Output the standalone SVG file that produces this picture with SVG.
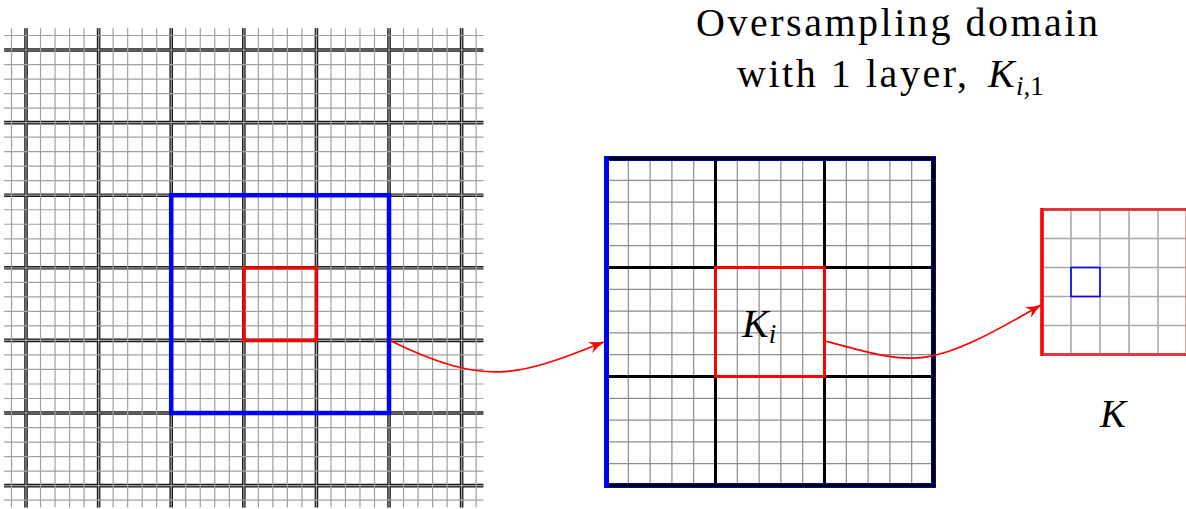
<svg xmlns="http://www.w3.org/2000/svg" width="1186" height="509" viewBox="0 0 1186 509">
<style>
.bg{fill:#fff}
.coarseL{stroke:#1a1a1a;stroke-width:3.6;fill:none}
.fineL{stroke:#a0a0a0;stroke-width:1.2;fill:none}
.fineM{stroke:#8c8c8c;stroke-width:1.2;fill:none}
.coarseM{stroke:#000;stroke-width:3;fill:none}
.fineR{stroke:#a8a8a8;stroke-width:1.6;fill:none}
.blue{stroke:#0000ff;fill:none}
.red{stroke:#ff0000;fill:none}
.conn{stroke:#ff0000;stroke-width:1.7;fill:none}
.t{font-family:"Liberation Serif","DejaVu Serif","Times New Roman",serif;fill:#000}
.it{font-style:italic}
</style>
<defs>
<marker id="arr" viewBox="0 0 16 13" refX="15" refY="6.5" markerWidth="16" markerHeight="13" markerUnits="userSpaceOnUse" orient="auto">
<path d="M0,0.5 Q8,4.5 15.5,6.5 Q8,8.5 0,12.5 L4.5,6.5 Z" fill="#ff0000"/>
</marker>
</defs>
<rect class="bg" x="0" y="0" width="1186" height="509"/>

<g id="fine-mesh">
<path class="coarseL" d="M26.02,28.3V507.4M98.62,28.3V507.4M171.22,28.3V507.4M243.82,28.3V507.4M316.42,28.3V507.4M389.02,28.3V507.4M461.62,28.3V507.4M4.2,50.02H483.4M4.2,122.62H483.4M4.2,195.22H483.4M4.2,267.82H483.4M4.2,340.42H483.4M4.2,413.02H483.4M4.2,485.62H483.4"/>
<path class="fineL" d="M11.5,28.3V507.4M26.02,28.3V507.4M40.54,28.3V507.4M55.06,28.3V507.4M69.58,28.3V507.4M84.1,28.3V507.4M98.62,28.3V507.4M113.14,28.3V507.4M127.66,28.3V507.4M142.18,28.3V507.4M156.7,28.3V507.4M171.22,28.3V507.4M185.74,28.3V507.4M200.26,28.3V507.4M214.78,28.3V507.4M229.3,28.3V507.4M243.82,28.3V507.4M258.34,28.3V507.4M272.86,28.3V507.4M287.38,28.3V507.4M301.9,28.3V507.4M316.42,28.3V507.4M330.94,28.3V507.4M345.46,28.3V507.4M359.98,28.3V507.4M374.5,28.3V507.4M389.02,28.3V507.4M403.54,28.3V507.4M418.06,28.3V507.4M432.58,28.3V507.4M447.1,28.3V507.4M461.62,28.3V507.4M476.14,28.3V507.4
M4.2,35.5H483.4M4.2,50.02H483.4M4.2,64.54H483.4M4.2,79.06H483.4M4.2,93.58H483.4M4.2,108.1H483.4M4.2,122.62H483.4M4.2,137.14H483.4M4.2,151.66H483.4M4.2,166.18H483.4M4.2,180.7H483.4M4.2,195.22H483.4M4.2,209.74H483.4M4.2,224.26H483.4M4.2,238.78H483.4M4.2,253.3H483.4M4.2,267.82H483.4M4.2,282.34H483.4M4.2,296.86H483.4M4.2,311.38H483.4M4.2,325.9H483.4M4.2,340.42H483.4M4.2,354.94H483.4M4.2,369.46H483.4M4.2,383.98H483.4M4.2,398.5H483.4M4.2,413.02H483.4M4.2,427.54H483.4M4.2,442.06H483.4M4.2,456.58H483.4M4.2,471.1H483.4M4.2,485.62H483.4M4.2,500.14H483.4"/>
<rect class="blue" x="171.22" y="195.22" width="217.8" height="217.8" stroke-width="4.5"/>
<rect class="red" x="243.82" y="267.82" width="72.6" height="72.6" stroke-width="3"/>
</g>

<g id="oversampling-domain">
<path class="fineM" d="M628.3,158.5V485.5M650.1,158.5V485.5M671.9,158.5V485.5M693.7,158.5V485.5M737.3,158.5V485.5M759.1,158.5V485.5M780.9,158.5V485.5M802.7,158.5V485.5M846.3,158.5V485.5M868.1,158.5V485.5M889.9,158.5V485.5M911.7,158.5V485.5
M606.5,180.3H933.5M606.5,202.1H933.5M606.5,223.9H933.5M606.5,245.7H933.5M606.5,289.3H933.5M606.5,311.1H933.5M606.5,332.9H933.5M606.5,354.7H933.5M606.5,398.3H933.5M606.5,420.1H933.5M606.5,441.9H933.5M606.5,463.7H933.5"/>
<path class="coarseM" d="M715.5,158.5V485.5M824.5,158.5V485.5M606.5,267.5H933.5M606.5,376.5H933.5"/>
<rect class="blue" x="606.5" y="158.5" width="327" height="327" stroke-width="5"/>
<rect x="606.5" y="158.5" width="327" height="327" fill="none" stroke="#000" stroke-width="3.6"/>
<path class="blue" d="M606.5,156.5V487.5" stroke-width="4.5"/>
<rect class="red" x="715.5" y="267.5" width="109" height="109" stroke-width="3"/>
<text class="t it" x="742" y="337" font-size="40">K<tspan font-size="27" dy="6">i</tspan></text>
</g>

<g id="element-K">
<path class="fineR" d="M1071,209.5V354.5M1100,209.5V354.5M1129,209.5V354.5M1158,209.5V354.5M1042,238.5H1187M1042,267.5H1187M1042,296.5H1187M1042,325.5H1187"/>
<rect x="1042" y="209.5" width="145" height="145" fill="none" stroke="#e03a3a" stroke-width="3"/>
<path class="red" d="M1042,208V356" stroke-width="3.4"/>
<rect class="blue" x="1071" y="267.5" width="29" height="29" stroke-width="1.6"/>
<text class="t it" x="1100" y="427" font-size="39">K</text>
</g>

<g id="title">
<text class="t" x="696" y="36" font-size="40" textLength="402" lengthAdjust="spacing">Oversampling domain</text>
<text class="t" x="737" y="87" font-size="40" textLength="230" lengthAdjust="spacing">with 1 layer,</text>
<text class="t it" x="988" y="87" font-size="40">K</text>
<text class="t" x="1016" y="95" font-size="27"><tspan class="it">i</tspan>,1</text>
</g>

<g id="connectors">
<path class="conn" marker-end="url(#arr)" d="M390,340.4 C487,388 518,376 604,342"/>
<path class="conn" marker-end="url(#arr)" d="M825,341 C918,366 927,371 1041,305"/>
</g>
</svg>
